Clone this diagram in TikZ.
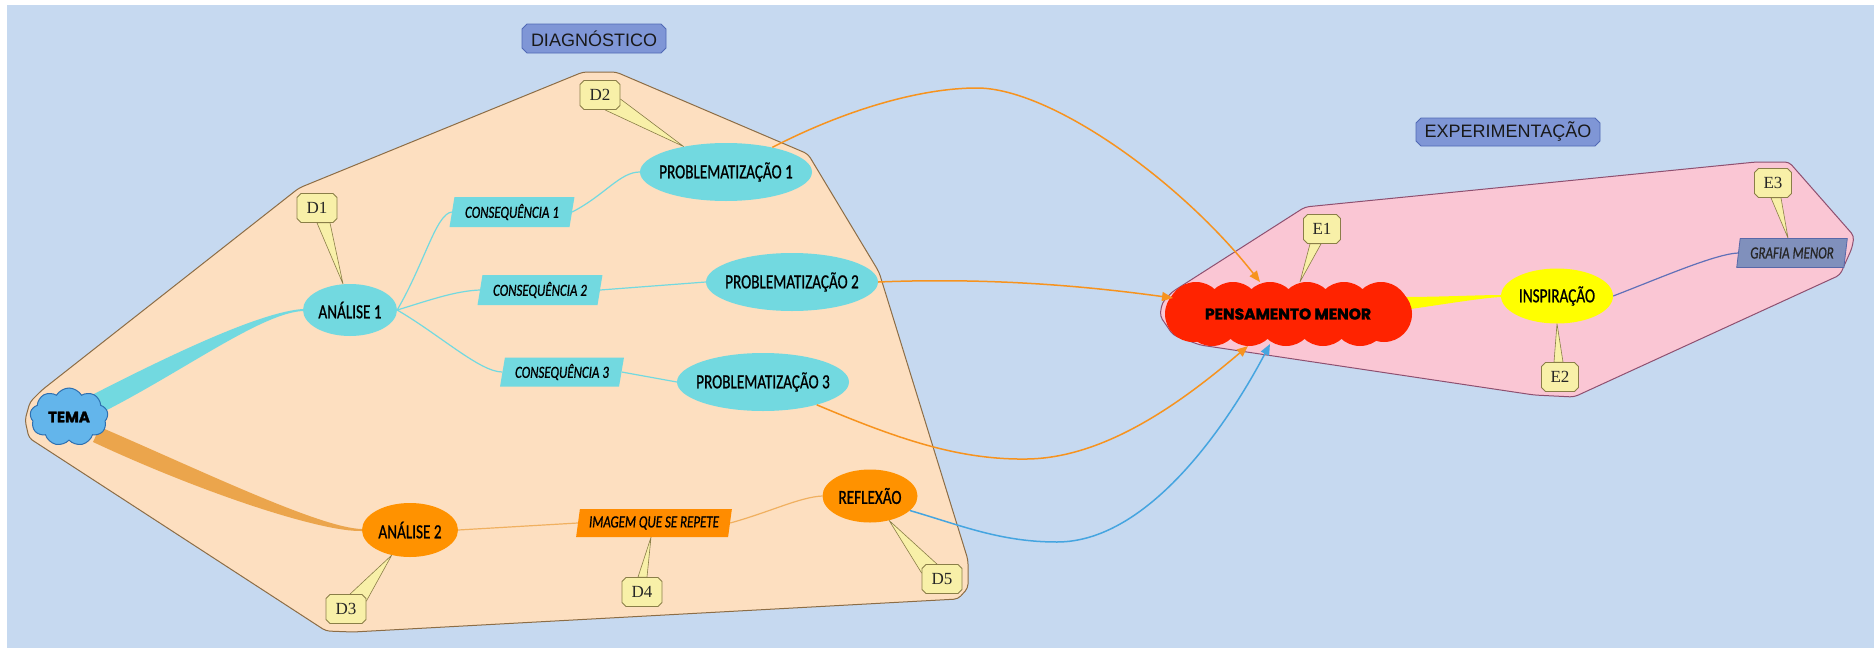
\documentclass[tikz,border=0pt]{standalone}
\usepackage{fontspec}
\setmainfont{Carlito}[FakeStretch=0.76, FakeBold=0.8]
\newfontfamily\labfont{Liberation Sans}
\newfontfamily\dfont{Liberation Serif}
\newfontfamily\heavyfont{Poppins}[BoldFeatures={FakeBold=2}]
\usetikzlibrary{shapes.geometric,shapes.misc,shapes.symbols,arrows.meta}
\pgfdeclarelayer{back}
\pgfdeclarelayer{mid}
\pgfsetlayers{back,mid,main}
\definecolor{bgblue}{HTML}{C6D9F0}
\definecolor{peach}{HTML}{FDDFC0}
\definecolor{peachline}{HTML}{8C6D46}
\definecolor{pinkfill}{HTML}{FAC6D4}
\definecolor{pinkline}{HTML}{8E5070}
\definecolor{tealc}{HTML}{72D9E0}
\definecolor{orangeA}{HTML}{FF9200}
\definecolor{orangeP}{HTML}{FF8C00}
\definecolor{branchor}{HTML}{EBA54C}
\definecolor{thinor}{HTML}{F0B060}
\definecolor{arror}{HTML}{F7931E}
\definecolor{arrblue}{HTML}{45A5E0}
\definecolor{temafill}{HTML}{63B5EB}
\definecolor{temaline}{HTML}{2F70B0}
\definecolor{redc}{HTML}{FF2300}
\definecolor{yellowc}{HTML}{FFFF00}
\definecolor{grafill}{HTML}{8090BC}
\definecolor{graline}{HTML}{5868A8}
\definecolor{grathin}{HTML}{6070B8}
\definecolor{callfill}{HTML}{F8F0A8}
\definecolor{callline}{HTML}{8A7E48}
\definecolor{labfill}{HTML}{7F96D6}
\definecolor{labline}{HTML}{5069B5}
\newcommand{\ztext}[1]{\makebox[0pt]{#1}}
\begin{document}
\begin{tikzpicture}[x=1pt,y=-1pt,
  ell/.style={ellipse, inner sep=0pt, font=\fontsize{20}{24}\selectfont},
  para/.style={trapezium, trapezium left angle=76, trapezium right angle=104,
    trapezium stretches=true, inner sep=0pt, font=\fontsize{17}{20}\selectfont\itshape},
  callout/.style={chamfered rectangle, chamfered rectangle xsep=2pt, chamfered rectangle ysep=2pt,
    fill=callfill, draw=callline, line width=0.8pt, minimum width=40pt, minimum height=29pt,
    inner sep=0pt, text=black!85, font=\dfont\fontsize{17}{20}\selectfont},
  ptr/.style={fill=callfill, draw=callline, line width=0.6pt, line join=round},
  grouplabel/.style={chamfered rectangle, chamfered rectangle xsep=2.5pt, chamfered rectangle ysep=2.5pt,
    fill=labfill, draw=labline, line width=0.8pt, inner sep=0pt, text=black!90,
    font=\labfont\fontsize{18}{21}\selectfont},
  thinline/.style={line width=1.2pt},
  arr/.style={line width=1.5pt, -{Triangle[length=11pt,width=9pt]}},
  cloudnode/.style={cloud, cloud ignores aspect, inner sep=0pt},
  puff/.style={fill=redc}
]
\useasboundingbox (0,0) rectangle (1874,648);

% ---------- nodes ----------
\node[cloudnode, cloud puffs=9, cloud puff arc=120, minimum width=78pt, minimum height=58pt,
  fill=temafill, draw=temaline, line width=1pt,
  font=\heavyfont\bfseries\fontsize{15}{18}\selectfont] (tema) at (69,417) {\ztext{TEMA}};
\node[rectangle, minimum width=246pt, minimum height=64pt, inner sep=0pt,
  font=\heavyfont\bfseries\fontsize{15.5}{18}\selectfont] (pm) at (1288,314) {\ztext{PENSAMENTO MENOR}};

\node[ell, fill=tealc, minimum width=94pt, minimum height=52pt] (a1) at (350,310) {\ztext{ANÁLISE 1}};
\node[ell, fill=orangeA, minimum width=96pt, minimum height=54pt] (a2) at (410,530) {\ztext{ANÁLISE 2}};
\node[ell, fill=tealc, minimum width=172pt, minimum height=58pt] (p1) at (726,172) {\ztext{PROBLEMATIZAÇÃO 1}};
\node[ell, fill=tealc, minimum width=172pt, minimum height=58pt] (p2) at (792,282) {\ztext{PROBLEMATIZAÇÃO 2}};
\node[ell, fill=tealc, minimum width=172pt, minimum height=58pt] (p3) at (763,382) {\ztext{PROBLEMATIZAÇÃO 3}};
\node[ell, fill=orangeA, minimum width=95pt, minimum height=53pt] (rf) at (870,496) {\ztext{REFLEXÃO}};
\node[ell, fill=yellowc, minimum width=112pt, minimum height=55pt] (ins) at (1557,296) {\ztext{INSPIRAÇÃO}};

\node[para, fill=tealc, minimum width=125pt, minimum height=30pt] (c1) at (512,212) {CONSEQUÊNCIA 1};
\node[para, fill=tealc, minimum width=125pt, minimum height=30pt] (c2) at (540,290) {CONSEQUÊNCIA 2};
\node[para, fill=tealc, minimum width=124pt, minimum height=29pt] (c3) at (562,372) {CONSEQUÊNCIA 3};
\node[para, fill=orangeP, minimum width=156pt, minimum height=28pt] (im) at (654,523) {IMAGEM QUE SE REPETE};
\node[para, fill=grafill, draw=graline, line width=0.8pt, minimum width=111pt, minimum height=29pt,
  text=black!85] (gm) at (1792,253) {GRAFIA MENOR};

\node[grouplabel, minimum width=144pt, minimum height=29pt] (diag) at (594,38.5) {DIAGNÓSTICO};
\node[grouplabel, minimum width=184pt, minimum height=28pt] (exper) at (1508,132) {EXPERIMENTAÇÃO};

\node[callout] (d1) at (317,208) {D1};
\node[callout] (d2) at (600,95) {D2};
\node[callout] (d3) at (346,609) {D3};
\node[callout] (d4) at (642,592) {D4};
\node[callout] (d5) at (942,579) {D5};
\node[callout, minimum width=37pt] (e1) at (1322,229) {E1};
\node[callout, minimum width=37pt] (e2) at (1560,377) {E2};
\node[callout, minimum width=37pt] (e3) at (1773,183) {E3};

% ---------- background groups ----------
\begin{pgfonlayer}{back}
\fill[bgblue] (7,5) rectangle (1874,648);
\filldraw[fill=peach, draw=peachline, line width=1pt, rounded corners=4pt]
  (583,72) -- (616,72) -- (808,154) -- (879,272) -- (968,560) -- (968,588) -- (958,599)
  -- (353,632) -- (326,631) -- (29,438) -- (25,420) -- (30,402) -- (42,390) -- (299,188) -- cycle;
\filldraw[fill=pinkfill, draw=pinkline, line width=1pt, rounded corners=4pt]
  (1305,207) -- (1756,162) -- (1789,162) -- (1854,236) -- (1852,248) -- (1840,275)
  -- (1574,397) -- (1534,395) -- (1200,345) -- (1173,335) -- (1160,316) -- (1162,303)
  -- (1172,292) -- cycle;
\end{pgfonlayer}

% ---------- branches, cloud, connectors, pointers ----------
\begin{pgfonlayer}{mid}
\fill[tealc] ([shift={(21,-21)}]tema.center) .. controls (170,355) and (260,312) .. ([yshift=1pt]a1.west)
  -- ([yshift=-1pt]a1.west) .. controls (262,313) and (185,370) .. ([shift={(36,-6)}]tema.center) -- cycle;
\fill[branchor] ([shift={(31,10)}]tema.center) .. controls (200,470) and (320,528) .. ([yshift=1pt]a2.west)
  -- ([yshift=-1pt]a2.west) .. controls (320,532) and (200,492) .. ([shift={(24,25)}]tema.center) -- cycle;
\fill[yellowc] ([shift={(-10,-17)}]pm.east) .. controls (1440,297) and (1480,295) .. ([yshift=1pt]ins.west)
  -- ([yshift=-1pt]ins.west) .. controls (1480,298) and (1440,305) .. ([shift={(-8,-4)}]pm.east) -- cycle;

% cloud of PENSAMENTO MENOR
\foreach \cx in {1196,1233,1270,1307,1344,1381} \fill[puff] (\cx,310) circle[radius=28];
\foreach \cx in {1212,1249,1286,1323,1360} \fill[puff] (\cx,318) circle[radius=28];
\fill[puff] (1193,314) circle[radius=28];
\fill[puff] (1384,314) circle[radius=28];

\draw[thinline, tealc] (a1.east) .. controls (425,262) and (436,214) .. (c1.west);
\draw[thinline, tealc] (a1.east) .. controls (430,300) and (455,291) .. (c2.west);
\draw[thinline, tealc] (a1.east) .. controls (440,335) and (480,372) .. (c3.west);
\draw[thinline, tealc] (c1.east) .. controls (605,195) and (620,172) .. (p1.west);
\draw[thinline, tealc] (c2.east) -- (p2.west);
\draw[thinline, tealc] (c3.east) -- (p3.west);
\draw[thinline, thinor] (a2.east) -- (im.west);
\draw[thinline, thinor] (im.east) .. controls (770,512) and (800,497) .. (rf.west);
\draw[thinline, grathin] (ins.east) .. controls (1660,278) and (1715,254) .. (gm.west);

\draw[ptr] (d1.south) -- (a1.105) -- ([xshift=13pt]d1.south) -- cycle;
\draw[ptr] ([xshift=5pt]d2.south) -- (p1.149) -- ([yshift=-4pt]d2.east) -- cycle;
\draw[ptr] ([xshift=4pt]d3.north) -- (a2.234) -- ([yshift=8pt]d3.east) -- cycle;
\draw[ptr] ([xshift=-4pt]d4.north) -- ([xshift=-3pt]im.south) -- ([xshift=5pt]d4.north) -- cycle;
\draw[ptr] ([xshift=-5pt]d5.north) -- (rf.308) -- ([yshift=6pt]d5.west) -- cycle;
\draw[ptr] ([xshift=-12pt]e1.south) -- ([xshift=12pt]pm.north) -- ([xshift=-1pt]e1.south) -- cycle;
\draw[ptr] ([xshift=-6pt]e2.north) -- (ins.south) -- ([xshift=3pt]e2.north) -- cycle;
\draw[ptr] ([xshift=-2pt]e3.south) -- ([xshift=-4pt]gm.north) -- ([xshift=8pt]e3.south) -- cycle;
\end{pgfonlayer}

% ---------- arrows into PENSAMENTO MENOR ----------
\draw[arr, arror] (p1.28) .. controls (845,110) and (920,88) .. (977,88)
  .. controls (1050,88) and (1180,180) .. ([shift={(-28,-32)}]pm.center);
\draw[arr, arror] (p2.east) .. controls (1000,277) and (1100,288) .. ([shift={(-115,-16)}]pm.center);
\draw[arr, arror] (p3.337) .. controls (900,440) and (960,460) .. (1027,459)
  .. controls (1110,458) and (1190,395) .. ([shift={(-40,32)}]pm.center);
\draw[arr, arrblue] (rf.340) .. controls (960,525) and (1000,542) .. (1057,542)
  .. controls (1150,542) and (1230,420) .. ([shift={(-18,30)}]pm.center);
\end{tikzpicture}
\end{document}
